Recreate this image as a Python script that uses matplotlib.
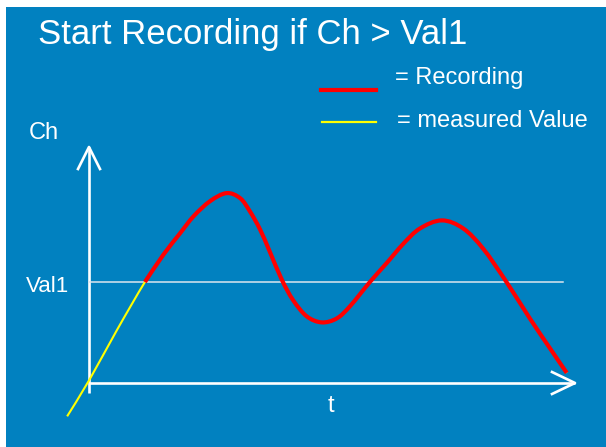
import matplotlib
matplotlib.use("Agg")
import matplotlib.pyplot as plt
from matplotlib.patches import Rectangle, PathPatch
from matplotlib.path import Path
from matplotlib.lines import Line2D

plt.rcParams['font.family'] = ['Liberation Sans', 'DejaVu Sans']

# ---- data (t in arbitrary time units, Ch relative to Val1 = 1) ----
TITLE = "Start Recording if Ch > Val1"
VAL1 = 1.0
t_vals = [-0.45, 0.006, 0.57, 1.15, 1.53, 1.87, 2.15, 2.49, 2.83, 3.11, 3.31,
          3.52, 3.72, 3.97, 4.20, 4.48, 4.79, 5.10, 5.37, 5.78, 6.13, 6.47,
          6.81, 7.26, 7.70, 8.11, 8.59, 9.07, 9.49, 9.83]
ch_vals = [-0.33, 0.03, 0.52, 1.00, 1.27, 1.48, 1.65, 1.80, 1.88, 1.83, 1.70,
           1.52, 1.30, 1.02, 0.82, 0.66, 0.60, 0.64, 0.76, 1.00, 1.19, 1.38,
           1.53, 1.61, 1.53, 1.33, 1.00, 0.64, 0.34, 0.10]
legend_labels = ["= Recording", "= measured Value"]
axis_labels = ["Ch", "t", "Val1"]

BLUE = '#0181C0'
W, H = 606, 447
fig = plt.figure(figsize=(W / 100, H / 100), dpi=100, facecolor='white')

# blue panel
bg = fig.add_axes([0, 0, 1, 1], zorder=-5)
bg.axis('off')
bg.add_patch(Rectangle((6 / W, 0), 1 - 6 / W, 1 - 7 / H,
                       transform=bg.transAxes, facecolor=BLUE,
                       edgecolor='none'))

ax = fig.add_axes([0, 0, 1, 1], zorder=1)
ax.set_facecolor('none')
sx, sy = 48.6, 101.0   # px per unit
ax.set_xlim(-89 / sx, (W - 89) / sx)
ax.set_ylim((383 - H) / sy, 383 / sy)
ax.axis('off')

t_end = 10.0
ytop = (383 - 147) / sy
# axes lines
lw_ax = 1.9
ax.plot([0, 0], [-0.1, ytop], color='white', lw=lw_ax, solid_capstyle='butt')
ax.plot([0, t_end], [0, 0], color='white', lw=lw_ax, solid_capstyle='butt')
# arrow heads
ax.plot([-11 / sx, 0, 11 / sx], [ytop - 22 / sy, ytop, ytop - 22 / sy],
        color='white', lw=lw_ax)
ax.plot([t_end - 23 / sx, t_end, t_end - 23 / sx], [11 / sy, 0, -11 / sy],
        color='white', lw=lw_ax)
# Val1 line
ax.plot([0, (563 - 89) / sx], [VAL1, VAL1], color='#DDE6EE', lw=1.1)


def smooth_path(xs, ys):
    """Catmull-Rom curve through the points, as cubic Bezier segments."""
    pts = list(zip(xs, ys))
    n = len(pts)
    verts = [pts[0]]
    codes = [Path.MOVETO]
    for i in range(n - 1):
        p0 = pts[i - 1] if i > 0 else pts[i]
        p1 = pts[i]
        p2 = pts[i + 1]
        p3 = pts[i + 2] if i + 2 < n else pts[i + 1]
        c1 = (p1[0] + (p2[0] - p0[0]) / 6, p1[1] + (p2[1] - p0[1]) / 6)
        c2 = (p2[0] - (p3[0] - p1[0]) / 6, p2[1] - (p3[1] - p1[1]) / 6)
        verts += [c1, c2, p2]
        codes += [Path.CURVE4] * 3
    return Path(verts, codes)


# measured value (yellow) and recording (red)
ax.add_patch(PathPatch(smooth_path(t_vals, ch_vals), fill=False,
                       edgecolor='#FFFF00', lw=1.5, joinstyle='round', zorder=3))
start = next(i for i, v in enumerate(ch_vals) if v >= VAL1)
ax.add_patch(PathPatch(smooth_path(t_vals[start:], ch_vals[start:]), fill=False,
                       edgecolor='#FF0000', lw=3.0, joinstyle='round',
                       capstyle='butt', zorder=4))

# texts
def fx(px):
    return px / W

def fy(py):
    return 1 - py / H

fig.text(fx(38), fy(44), TITLE, color='white', fontsize=25, va='baseline', zorder=5)
fig.text(fx(395), fy(84), legend_labels[0], color='white', fontsize=17, va='baseline', zorder=5)
fig.text(fx(397), fy(127), legend_labels[1], color='white', fontsize=17, va='baseline', zorder=5)
fig.add_artist(Line2D([fx(321), fx(376)], [fy(89.7), fy(89.7)], color='#FF0000', lw=3.0, zorder=5))
fig.add_artist(Line2D([fx(322), fx(376)], [fy(122), fy(122)], color='#FFFF00', lw=1.6, zorder=5))
fig.text(fx(29), fy(139), axis_labels[0], color='white', fontsize=17, va='baseline', zorder=5)
fig.text(fx(328), fy(412), axis_labels[1], color='white', fontsize=17, va='baseline', zorder=5)
fig.text(fx(26), fy(292), axis_labels[2], color='white', fontsize=16, va='baseline', zorder=5)

fig.savefig('out.png', dpi=100, facecolor='white')
